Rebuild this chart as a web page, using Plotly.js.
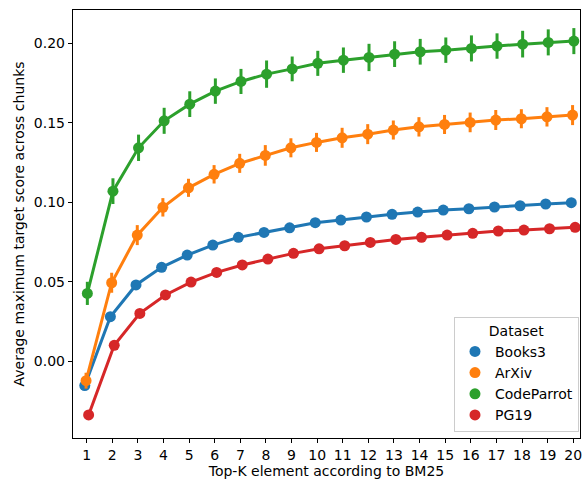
<!DOCTYPE html>
<html>
<head>
<meta charset="utf-8">
<script src="https://cdn.plot.ly/plotly-3.0.1.min.js"></script>
<style>html,body{margin:0;padding:0;background:#fff;}#chart{width:587px;height:484px;}</style>
</head>
<body>
<div id="chart"></div>
<script>
const topK = [1,2,3,4,5,6,7,8,9,10,11,12,13,14,15,16,17,18,19,20];
const seriesNames = ["Books3", "ArXiv", "CodeParrot", "PG19"];
const books3 = [-0.0155,0.0279,0.0479,0.0590,0.0667,0.0730,0.0779,0.0810,0.0839,0.0871,0.0888,0.0907,0.0924,0.0938,0.0951,0.0959,0.0970,0.0978,0.0989,0.0997];
const books3Err = [0.0025,0.0025,0.0025,0.0024,0.0022,0.0021,0.0021,0.0020,0.0020,0.0020,0.0019,0.0019,0.0019,0.0019,0.0019,0.0019,0.0018,0.0018,0.0018,0.0018];
const arxiv = [-0.0124,0.0493,0.0793,0.0968,0.1091,0.1176,0.1245,0.1295,0.1343,0.1377,0.1406,0.1429,0.1455,0.1475,0.1490,0.1503,0.1518,0.1526,0.1538,0.1549];
const arxivErr = [0.0050,0.0063,0.0063,0.0058,0.0057,0.0058,0.0060,0.0065,0.0060,0.0060,0.0063,0.0063,0.0060,0.0061,0.0060,0.0062,0.0063,0.0060,0.0061,0.0063];
const codeparrot = [0.0426,0.1070,0.1343,0.1513,0.1618,0.1700,0.1761,0.1807,0.1840,0.1875,0.1895,0.1912,0.1933,0.1948,0.1958,0.1969,0.1984,0.1996,0.2007,0.2015];
const codeparrotErr = [0.0073,0.0081,0.0083,0.0082,0.0081,0.0080,0.0079,0.0086,0.0078,0.0079,0.0080,0.0086,0.0081,0.0081,0.0080,0.0082,0.0080,0.0084,0.0082,0.0082];
const pg19 = [-0.0340,0.0099,0.0300,0.0416,0.0497,0.0558,0.0605,0.0642,0.0678,0.0707,0.0726,0.0747,0.0766,0.0779,0.0793,0.0804,0.0819,0.0825,0.0833,0.0842];
const pg19Err = [0.0010,0.0012,0.0012,0.0012,0.0011,0.0011,0.0011,0.0011,0.0011,0.0011,0.0011,0.0011,0.0011,0.0011,0.0011,0.0011,0.0011,0.0011,0.0011,0.0011];
const yTickVals = [0.00, 0.05, 0.10, 0.15, 0.20];
const yTickText = ["0.00", "0.05", "0.10", "0.15", "0.20"];

const colors = ["#1f77b4", "#ff7f0e", "#2ca02c", "#d62728"];
const dodge = [-0.075, -0.025, 0.025, 0.075];
const values = [books3, arxiv, codeparrot, pg19];
const errs = [books3Err, arxivErr, codeparrotErr, pg19Err];

const traces = [];
seriesNames.forEach((name, i) => {
  traces.push({
    type: "scatter",
    mode: "lines+markers",
    name: name,
    x: topK.map(k => k + dodge[i]),
    y: values[i],
    error_y: {type: "data", array: errs[i], visible: true, color: colors[i], thickness: 3, width: 0},
    line: {color: colors[i], width: 3},
    marker: {color: colors[i], size: 11},
    showlegend: false,
    hoverinfo: "x+y"
  });
});
seriesNames.forEach((name, i) => {
  traces.push({
    type: "scatter",
    mode: "markers",
    name: name,
    x: [null],
    y: [null],
    marker: {color: colors[i], size: 11},
    showlegend: true
  });
});

const fs = 14;
const font = {family: "DejaVu Sans, sans-serif", size: fs, color: "#000"};
const layout = {
  width: 587, height: 484,
  margin: {l: 73, r: 7, t: 10, b: 46},
  paper_bgcolor: "#fff", plot_bgcolor: "#fff",
  font: font,
  showlegend: true,
  xaxis: {
    range: [0.465, 20.265],
    tickvals: topK,
    ticktext: topK.map(String),
    ticks: "outside", ticklen: 4, tickwidth: 1, tickcolor: "#000",
    showline: true, linecolor: "#000", linewidth: 1.2, mirror: true,
    showgrid: false, zeroline: false,
    tickfont: {family: font.family, size: fs, color: "#000"},
    title: {text: "Top-K element according to BM25", font: {family: font.family, size: fs, color: "#000"}, standoff: 4}
  },
  yaxis: {
    range: [-0.0485, 0.2211],
    tickvals: yTickVals,
    ticktext: yTickText,
    ticks: "outside", ticklen: 4, tickwidth: 1, tickcolor: "#000",
    showline: true, linecolor: "#000", linewidth: 1.2, mirror: true,
    showgrid: false, zeroline: false,
    tickfont: {family: font.family, size: fs, color: "#000"},
    title: {text: "Average maximum target score across chunks", font: {family: font.family, size: fs, color: "#000"}, standoff: 6}
  },
  legend: {
    x: 0.998, xanchor: "right", y: 0.015, yanchor: "bottom",
    bgcolor: "rgba(255,255,255,0.8)", bordercolor: "#cccccc", borderwidth: 1,
    font: {family: font.family, size: fs, color: "#000"},
    title: {text: "Dataset", side: "top center", font: {family: font.family, size: fs, color: "#000"}},
    tracegroupgap: 0
  }
};

Plotly.newPlot("chart", traces, layout, {displayModeBar: false, staticPlot: true});
</script>
</body>
</html>
